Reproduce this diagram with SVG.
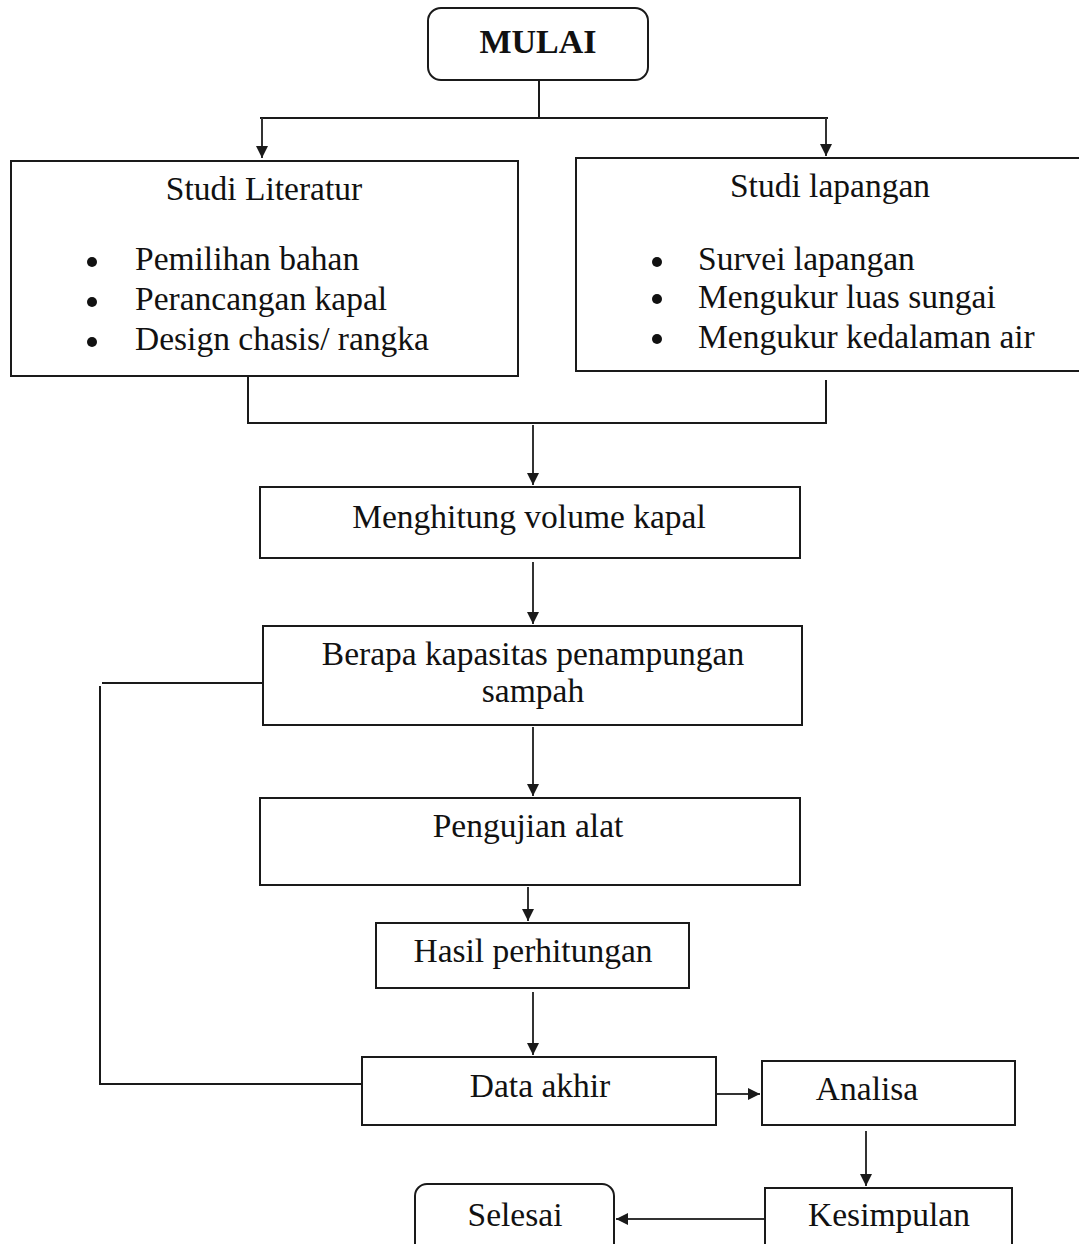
<svg xmlns="http://www.w3.org/2000/svg" width="1079" height="1244" viewBox="0 0 1079 1244">
<defs>
<marker id="ah" viewBox="0 0 10 10" refX="10" refY="5" markerWidth="12" markerHeight="12" markerUnits="userSpaceOnUse" orient="auto">
<path d="M0,0 L10,5 L0,10 Z" fill="#1a1a1a"/>
</marker>
<style>
.box{fill:#fff;stroke:#1a1a1a;stroke-width:2}
.t{font-family:"Liberation Serif","DejaVu Serif",serif;font-size:33.5px;fill:#111}
.c{text-anchor:middle}
.b{font-weight:bold;font-size:34px}
.ln{fill:none;stroke:#1a1a1a;stroke-width:2}
.ar{fill:none;stroke:#333;stroke-width:2;marker-end:url(#ah)}
</style>
</defs>
<rect width="1079" height="1244" fill="#fff"/>
<g id="connectors">
<path class="ln" d="M539,80 V118 M260,118 H828"/>
<path class="ar" d="M262,118 V158"/>
<path class="ar" d="M826,118 V156"/>
<path class="ln" d="M248,376 V423 H826 V380"/>
<path class="ar" d="M533,425 V485"/>
<path class="ar" d="M533,562 V624"/>
<path class="ar" d="M533,727 V796"/>
<path class="ar" d="M528,887 V921"/>
<path class="ar" d="M533,992 V1055"/>
<path class="ln" d="M263,683 H102 M100,686 V1084 H362"/>
<path class="ar" d="M716,1094 H760"/>
<path class="ar" d="M866,1131 V1186"/>
<path class="ar" d="M767,1219 H616"/>
</g>
<g id="mulai">
<rect class="box" x="428" y="8" width="220" height="72" rx="13"/>
<text class="t c b" x="538" y="53">MULAI</text>
</g>
<g id="studi-literatur">
<rect class="box" x="11" y="161" width="507" height="215"/>
<text class="t c" x="264" y="200">Studi Literatur</text>
<circle cx="92" cy="262" r="5" fill="#111"/>
<circle cx="92" cy="302" r="5" fill="#111"/>
<circle cx="92" cy="342" r="5" fill="#111"/>
<text class="t" x="135" y="270">Pemilihan bahan</text>
<text class="t" x="135" y="310">Perancangan kapal</text>
<text class="t" x="135" y="350">Design chasis/ rangka</text>
</g>
<g id="studi-lapangan">
<rect class="box" x="576" y="158" width="510" height="213"/>
<text class="t c" x="830" y="197">Studi lapangan</text>
<circle cx="657" cy="262" r="5" fill="#111"/>
<circle cx="657" cy="299" r="5" fill="#111"/>
<circle cx="657" cy="339" r="5" fill="#111"/>
<text class="t" x="698" y="270">Survei lapangan</text>
<text class="t" x="698" y="308">Mengukur luas sungai</text>
<text class="t" x="698" y="348">Mengukur kedalaman air</text>
</g>
<g id="menghitung">
<rect class="box" x="260" y="487" width="540" height="71"/>
<text class="t c" x="529" y="528">Menghitung volume kapal</text>
</g>
<g id="berapa">
<rect class="box" x="263" y="626" width="539" height="99"/>
<text class="t c" x="533" y="665">Berapa kapasitas penampungan</text>
<text class="t c" x="533" y="702">sampah</text>
</g>
<g id="pengujian">
<rect class="box" x="260" y="798" width="540" height="87"/>
<text class="t c" x="528" y="837">Pengujian alat</text>
</g>
<g id="hasil">
<rect class="box" x="376" y="923" width="313" height="65"/>
<text class="t c" x="533" y="962">Hasil perhitungan</text>
</g>
<g id="data-akhir">
<rect class="box" x="362" y="1057" width="354" height="68"/>
<text class="t c" x="540" y="1097">Data akhir</text>
</g>
<g id="analisa">
<rect class="box" x="762" y="1061" width="253" height="64"/>
<text class="t c" x="867" y="1100">Analisa</text>
</g>
<g id="kesimpulan">
<rect class="box" x="765" y="1188" width="247" height="70"/>
<text class="t c" x="889" y="1226">Kesimpulan</text>
</g>
<g id="selesai">
<rect class="box" x="415" y="1184" width="199" height="74" rx="12"/>
<text class="t c" x="515" y="1226">Selesai</text>
</g>
</svg>
